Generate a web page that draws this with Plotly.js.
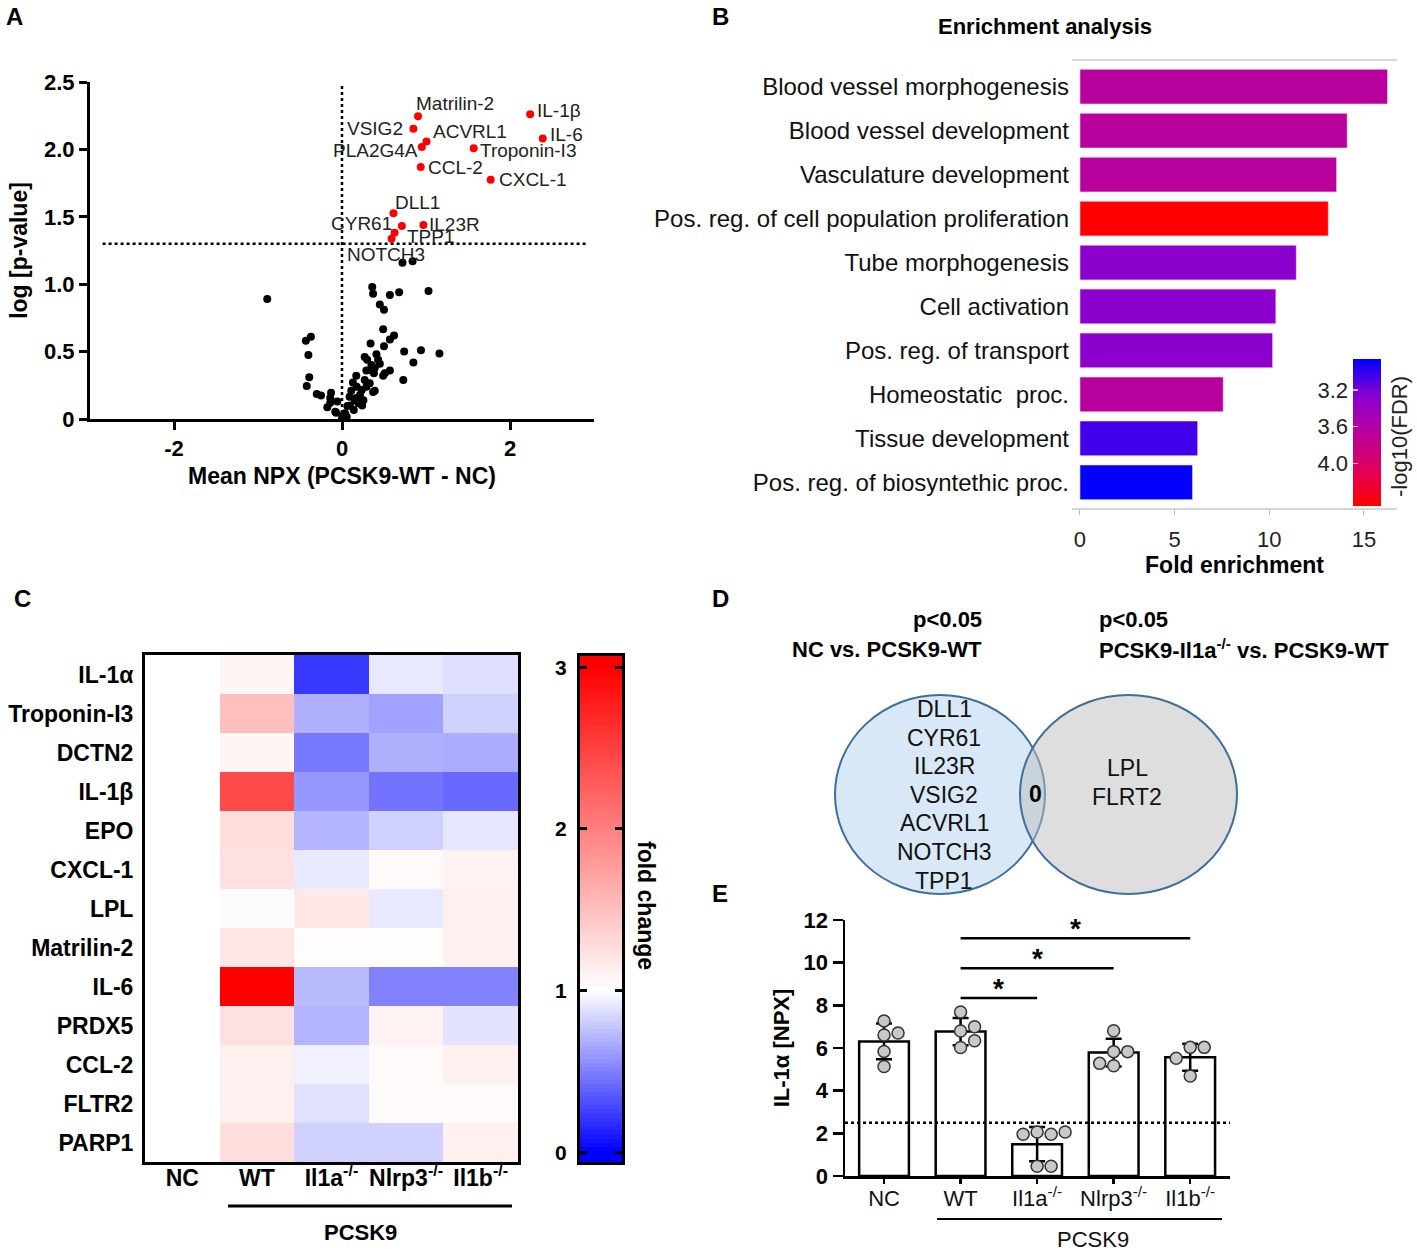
<!DOCTYPE html>
<html><head><meta charset="utf-8">
<script src="https://cdn.plot.ly/plotly-3.0.1.min.js"></script>
<style>html,body{margin:0;padding:0;background:#fff}#chart{width:1417px;height:1253px}</style>
</head><body><div id="chart"></div>
<script>
// ---------------- DATA ----------------
// Panel A: volcano
const sigNames=['Matrilin-2','IL-1β','VSIG2','ACVRL1','PLA2G4A','IL-6','Troponin-I3','CCL-2','CXCL-1','DLL1','CYR61','IL23R','TPP1','NOTCH3'];
const sigX=[0.905,2.24,0.85,1.006,0.95,2.39,1.568,0.937,1.77,0.613,0.713,0.969,0.626,0.59];
const sigY=[2.245,2.26,2.153,2.058,2.018,2.08,2.008,1.869,1.774,1.527,1.432,1.44,1.382,1.337];
const nsX=[-0.89,0.36,0.37,0.57,0.68,1.03,0.45,0.50,0.49,0.62,0.57,0.34,0.50,-0.43,-0.37,-0.40,0.74,0.94,1.16,0.85,0.27,0.30,0.41,0.43,0.45,0.35,0.39,0.29,0.35,0.38,0.51,0.57,0.49,0.73,-0.39,-0.42,0.17,0.13,0.175,0.27,0.29,0.235,0.33,0.37,0.39,-0.30,-0.25,-0.13,-0.14,-0.056,-0.175,-0.07,0.09,0.11,0.17,0.215,0.255,0.195,0.14,0.064,0.036,0.0,0.056,0.24,0.095,-0.08,0.016,-0.14,0.155,0.72,0.84];
const nsY=[0.89,0.98,0.93,0.92,0.94,0.95,0.85,0.81,0.665,0.62,0.59,0.56,0.54,0.58,0.61,0.475,0.50,0.51,0.485,0.42,0.46,0.44,0.48,0.44,0.41,0.40,0.38,0.36,0.36,0.34,0.34,0.36,0.32,0.29,0.31,0.245,0.32,0.27,0.24,0.29,0.24,0.215,0.265,0.20,0.21,0.185,0.175,0.195,0.155,0.13,0.087,0.047,0.165,0.21,0.155,0.18,0.14,0.116,0.067,0.096,0.042,0.005,0.017,0.10,0.10,0.054,0.03,0.12,0.14,1.16,1.17];
const pThreshold=1.3;
const xTicksA=[-2,0,2];
const yTicksA=[0,0.5,1,1.5,2,2.5];
const yTickTextA=['0','0.5','1.0','1.5','2.0','2.5'];

// Panel B: enrichment
const goTerms=['Blood vessel morphogenesis','Blood vessel development','Vasculature development','Pos. reg. of cell population proliferation','Tube morphogenesis','Cell activation','Pos. reg. of transport','Homeostatic\u00a0 proc.','Tissue development','Pos. reg. of biosyntethic proc.'];
const foldEnrichment=[16.25,14.12,13.56,13.12,11.43,10.35,10.18,7.57,6.22,5.95];
const negLog10FDR=[3.66,3.66,3.66,4.46,3.28,3.28,3.28,3.66,3.05,2.87];
const fdrMin=2.862, fdrMax=4.466;
const fdrTicks=[3.2,3.6,4.0];
const fdrTickText=['3.2','3.6','4.0'];
const foldTicks=[0,5,10,15];

// Panel C: heatmap (fold change vs NC)
const hmGenes=['IL-1α','Troponin-I3','DCTN2','IL-1β','EPO','CXCL-1','LPL','Matrilin-2','IL-6','PRDX5','CCL-2','FLTR2','PARP1'];
const hmGroups=['NC','WT','Il1a<sup>-/-</sup>','Nlrp3<sup>-/-</sup>','Il1b<sup>-/-</sup>'];
const fcNC=[1,1,1,1,1,1,1,1,1,1,1,1,1];
const fcWT=[1.08,1.5,1.08,2.42,1.27,1.24,0.99,1.2,3.0,1.24,1.12,1.12,1.27];
const fcIl1a=[0.22,0.69,0.47,0.59,0.71,0.91,1.18,1.02,0.73,0.7,0.94,0.88,0.82];
const fcNlrp3=[0.91,0.63,0.69,0.45,0.82,1.05,0.91,1.02,0.51,1.1,1.05,1.04,0.82];
const fcIl1b=[0.87,0.82,0.67,0.41,0.9,1.1,1.12,1.12,0.51,0.89,1.12,1.04,1.12];
const fcTicks=[0,1,2,3];

// Panel D: Venn
const vennLeft=['DLL1','CYR61','IL23R','VSIG2','ACVRL1','NOTCH3','TPP1'];
const vennRight=['LPL','FLRT2'];
const vennOverlap='0';

// Panel E: IL-1α NPX
const eGroups=['NC','WT','Il1a<sup>-/-</sup>','Nlrp3<sup>-/-</sup>','Il1b<sup>-/-</sup>'];
const npxNC=[7.27,6.61,6.70,5.84,5.13];
const npxWT=[7.69,6.80,7.00,6.34,6.02];
const npxIl1a=[2.06,1.96,1.96,2.06,0.46,0.46];
const npxNlrp3=[6.81,5.83,5.83,5.17,5.28];
const npxIl1b=[6.03,6.03,5.52,4.69];
const lod=2.5;
const comparisons=[[1,2],[1,3],[1,4]];
const eTicks=[0,2,4,6,8,10,12];

// ---------------- HELPERS / STYLE ----------------
const W=1417,H=1253;
const px=x=>x/W, py=y=>1-y/H;
const FONT='Arial, "Liberation Sans", sans-serif';
const B=(s)=>({family:FONT,size:s,color:'#000',weight:'bold'});
const R=(s,c)=>({family:FONT,size:s,color:c||'#111'});
const paperText=(x,y,text,font,extra)=>Object.assign({xref:'paper',yref:'paper',x:px(x),y:py(y),text:text,showarrow:false,xanchor:'center',yanchor:'middle',font:font},extra||{});

const labelStyle={'Matrilin-2':['left',-4,13],'IL-1β':['left',5,4],'VSIG2':['right',-8,0],'ACVRL1':['left',4,10],'PLA2G4A':['right',-2,-4],'IL-6':['left',5,4],'Troponin-I3':['left',4,-2],'CCL-2':['left',5,0],'CXCL-1':['left',6,0],'DLL1':['left',0,11],'CYR61':['right',-8,2],'IL23R':['left',4,0],'TPP1':['left',10,-4],'NOTCH3':['center',-6,-16]};

const fdrScale=[[0,'#0000FF'],[0.25,'#8A00D0'],[0.5,'#B8009C'],[0.75,'#E0005E'],[1,'#FF0000']];
const fcScale=[[0,'#0000FF'],[1/3,'#FFFFFF'],[1,'#FF0000']];

const traces=[];
const annotations=[];
const shapes=[];

// ---- Panel A
traces.push({type:'scatter',mode:'markers',x:nsX,y:nsY,xaxis:'x',yaxis:'y',marker:{color:'#000',size:8},hoverinfo:'skip'});
traces.push({type:'scatter',mode:'markers',x:sigX,y:sigY,xaxis:'x',yaxis:'y',marker:{color:'#FF0000',size:8},hoverinfo:'skip'});
sigNames.forEach((n,i)=>{
  const st=labelStyle[n];
  annotations.push({xref:'x',yref:'y',x:sigX[i],y:sigY[i],text:n,showarrow:false,xanchor:st[0],yanchor:'middle',xshift:st[1],yshift:st[2],font:R(19,'#222')});
});
shapes.push({type:'line',xref:'x',yref:'y',x0:0,x1:0,y0:0,y1:2.48,line:{color:'#000',width:2.5,dash:'dot'}});
shapes.push({type:'line',xref:'x',yref:'y',x0:-2.85,x1:2.92,y0:pThreshold,y1:pThreshold,line:{color:'#000',width:2.5,dash:'dot'}});

// ---- Panel B
traces.push({type:'bar',orientation:'h',x:foldEnrichment,y:goTerms,xaxis:'x2',yaxis:'y2',width:0.79,
  marker:{color:negLog10FDR,colorscale:fdrScale,cmin:fdrMin,cmax:fdrMax,showscale:false,line:{color:'rgba(255,220,255,0.6)',width:1}},hoverinfo:'skip'});
const fdrRamp=[];for(let i=0;i<=100;i++){fdrRamp.push(fdrMin+(fdrMax-fdrMin)*i/100);}
traces.push({type:'heatmap',x:[0],y:fdrRamp,z:fdrRamp.map(v=>[v]),xaxis:'x3',yaxis:'y3',colorscale:fdrScale,zmin:fdrMin,zmax:fdrMax,showscale:false,hoverinfo:'skip'});
annotations.push(paperText(1045,27,'Enrichment analysis',B(22)));
annotations.push(paperText(1399,437,'-log10(FDR)',R(22,'#222'),{textangle:-90}));

// ---- Panel C
const hmZ=hmGenes.map((g,i)=>[fcNC[i],fcWT[i],fcIl1a[i],fcNlrp3[i],fcIl1b[i]]);
traces.push({type:'heatmap',x:hmGroups,y:hmGenes,z:hmZ,xaxis:'x4',yaxis:'y4',colorscale:fcScale,zmin:0,zmax:3,showscale:false,hoverinfo:'skip'});
const fcRamp=[];for(let i=0;i<=120;i++){fcRamp.push(-0.06+3.13*i/120);}
traces.push({type:'heatmap',x:[0],y:fcRamp,z:fcRamp.map(v=>[v]),xaxis:'x5',yaxis:'y5',colorscale:fcScale,zmin:0,zmax:3,showscale:false,hoverinfo:'skip'});
shapes.push({type:'line',xref:'paper',yref:'paper',x0:px(228),x1:px(512),y0:py(1206),y1:py(1206),line:{color:'#000',width:3}});
annotations.push(paperText(360,1232,'PCSK9',B(22)));
annotations.push(paperText(646,905,'fold change',B(23),{textangle:90}));

// ---- Panel D
shapes.push({type:'circle',xref:'paper',yref:'paper',x0:px(835),x1:px(1045),y0:py(894),y1:py(695),fillcolor:'rgba(170,205,235,0.45)',line:{color:'#3d6f9c',width:2}});
shapes.push({type:'circle',xref:'paper',yref:'paper',x0:px(1020),x1:px(1237),y0:py(894),y1:py(695),fillcolor:'rgba(189,189,189,0.5)',line:{color:'#3d6f9c',width:2}});
vennLeft.forEach((t,i)=>annotations.push(paperText(944,709+i*28.6,t,R(23,'#111'))));
vennRight.forEach((t,i)=>annotations.push(paperText(1127,768+i*29,t,R(23,'#111'))));
annotations.push(paperText(1035,794,vennOverlap,B(23)));
annotations.push(paperText(984,620,'p<0.05',B(22),{xanchor:'right'}));
annotations.push(paperText(984,649,'NC vs. PCSK9-WT',B(22),{xanchor:'right'}));
annotations.push(paperText(1097,620,'p<0.05',B(22),{xanchor:'left'}));
annotations.push(paperText(1097,649,'PCSK9-Il1a<sup>-/-</sup> vs. PCSK9-WT',B(22),{xanchor:'left'}));

// ---- Panel E
const eData=[npxNC,npxWT,npxIl1a,npxNlrp3,npxIl1b];
const mean=a=>a.reduce((s,v)=>s+v,0)/a.length;
const sd=a=>{const m=mean(a);return Math.sqrt(a.reduce((s,v)=>s+(v-m)*(v-m),0)/(a.length-1));};
const eMeans=eData.map(mean), eSD=eData.map(sd);
traces.push({type:'bar',x:[0,1,2,3,4],y:eMeans,xaxis:'x6',yaxis:'y6',width:0.65,marker:{color:'#fff',line:{color:'#000',width:2.5}},
  error_y:{type:'data',array:eSD,visible:true,color:'#000',thickness:2.5,width:8},hoverinfo:'skip'});
// simple beeswarm (pixel scales of panel E)
const pxPerX=76.5, pxPerY=256/12, dia=14;
const ptX=[],ptY=[];
eData.forEach((vals,g)=>{
  const placed=[];
  vals.forEach(v=>{
    let off=0;
    for(let k=0;k<40;k++){
      const cand=(k===0)?0:(k%2?1:-1)*Math.ceil(k/2)*dia/2;
      const ok=placed.every(p=>Math.hypot(p[0]-cand,(p[1]-v)*pxPerY)>=dia-0.01);
      if(ok){off=cand;break;}
    }
    placed.push([off,v]);
    ptX.push(g+off/pxPerX);ptY.push(v);
  });
});
traces.push({type:'scatter',mode:'markers',x:ptX,y:ptY,xaxis:'x6',yaxis:'y6',marker:{color:'#c8c8c8',size:12,line:{color:'#333',width:1.5}},hoverinfo:'skip'});
shapes.push({type:'line',xref:'x6 domain',yref:'y6',x0:0,x1:1,y0:lod,y1:lod,line:{color:'#000',width:2.5,dash:'dot'}});
const topAll=Math.max(...eData.map((a,i)=>Math.max(...a,eMeans[i]+eSD[i])));
comparisons.forEach((c,k)=>{
  const lvl=topAll+0.65+k*1.4;
  shapes.push({type:'line',xref:'x6',yref:'y6',x0:c[0],x1:c[1],y0:lvl,y1:lvl,line:{color:'#000',width:2.5}});
  annotations.push({xref:'x6',yref:'y6',x:(c[0]+c[1])/2,y:lvl,text:'*',showarrow:false,xanchor:'center',yanchor:'bottom',yshift:-8,font:B(28)});
});
shapes.push({type:'line',xref:'paper',yref:'paper',x0:px(937),x1:px(1222),y0:py(1219),y1:py(1219),line:{color:'#000',width:2}});
annotations.push(paperText(1093,1239,'PCSK9',R(22,'#111')));

// panel letters
[['A',14,16],['B',720,16],['C',22,598],['D',720,598],['E',720,893]].forEach(l=>annotations.push(paperText(l[1],l[2],l[0],B(24))));

const axBlack={showline:true,linecolor:'#000',showgrid:false,zeroline:false};
const layout={
  width:W,height:H,margin:{l:0,r:0,t:0,b:0},paper_bgcolor:'#fff',plot_bgcolor:'rgba(0,0,0,0)',
  showlegend:false,hovermode:false,font:{family:FONT,color:'#000'},
  // A
  xaxis:Object.assign({},axBlack,{domain:[px(90),px(594)],anchor:'y',range:[-3,3],linewidth:3,ticks:'outside',ticklen:8,tickwidth:3,tickcolor:'#000',
    tickvals:xTicksA,ticktext:xTicksA.map(String),tickfont:B(22),title:{text:'Mean NPX (PCSK9-WT - NC)',font:B(23),standoff:8}}),
  yaxis:Object.assign({},axBlack,{domain:[py(419),py(82)],anchor:'x',range:[0,2.5],linewidth:3,ticks:'outside',ticklen:8,tickwidth:3,tickcolor:'#000',
    tickvals:yTicksA,ticktext:yTickTextA,tickfont:B(22),title:{text:'log [p-value]',font:B(23),standoff:10}}),
  // B
  xaxis2:{domain:[px(1072),px(1397)],anchor:'y2',range:[-0.42,16.75],showline:true,linecolor:'#d6d6d6',linewidth:2,mirror:true,showgrid:false,zeroline:false,
    ticks:'outside',ticklen:5,tickcolor:'#bbb',tickvals:foldTicks,tickfont:R(22,'#222'),ticklabelstandoff:6,
    title:{text:'Fold enrichment',font:B(23),standoff:4}},
  yaxis2:{domain:[py(508),py(61)],anchor:'x2',type:'category',range:[goTerms.length-0.416,-0.584],showline:false,showgrid:false,zeroline:false,ticks:'',ticklen:0,tickfont:R(24,'#111'),ticklabelstandoff:2},
  xaxis3:{domain:[px(1353),px(1381)],anchor:'y3',range:[-0.5,0.5],visible:false},
  yaxis3:{domain:[py(506),py(359)],anchor:'x3',range:[fdrMax,fdrMin],showline:false,showgrid:false,zeroline:false,
    tickvals:fdrTicks,ticktext:fdrTickText,ticks:'inside',ticklen:5,tickwidth:1.5,tickcolor:'rgba(255,255,255,0.7)',tickfont:R(22,'#222'),ticklabelstandoff:4},
  // C
  xaxis4:Object.assign({},axBlack,{domain:[px(145),px(518)],anchor:'y4',type:'category',linewidth:3,mirror:true,ticks:'',ticklen:0,tickfont:B(23),ticklabelstandoff:-7}),
  yaxis4:Object.assign({},axBlack,{domain:[py(1162),py(655)],anchor:'x4',type:'category',autorange:'reversed',linewidth:3,mirror:true,ticks:'',ticklen:0,tickfont:B(23),ticklabelstandoff:4}),
  xaxis5:Object.assign({},axBlack,{domain:[px(580),px(622)],anchor:'y5',range:[-0.5,0.5],linewidth:3,mirror:true,ticks:'',showticklabels:false}),
  yaxis5:Object.assign({},axBlack,{domain:[py(1162),py(656)],anchor:'x5',range:[-0.06,3.07],linewidth:3,mirror:'ticks',ticks:'inside',ticklen:7,tickwidth:3,tickcolor:'#000',
    tickvals:fcTicks,ticktext:fcTicks.map(String),tickfont:B(21),ticklabelstandoff:6}),
  // E
  xaxis6:Object.assign({},axBlack,{domain:[px(845),px(1230)],anchor:'y6',range:[-0.51,4.52],linewidth:2.5,ticks:'outside',ticklen:5,tickwidth:2.5,tickcolor:'#000',
    tickvals:[0,1,2,3,4],ticktext:eGroups,tickfont:R(22,'#111'),ticklabelstandoff:-4}),
  yaxis6:Object.assign({},axBlack,{domain:[py(1176),py(920)],anchor:'x6',range:[0,12],linewidth:2.5,ticks:'outside',ticklen:10,tickwidth:2.5,tickcolor:'#000',
    tickvals:eTicks,ticktext:eTicks.map(String),tickfont:B(22),title:{text:'IL-1α [NPX]',font:B(22),standoff:8}}),
  annotations:annotations,shapes:shapes
};
Plotly.newPlot('chart',traces,layout,{staticPlot:true,displayModeBar:false});
</script></body></html>
